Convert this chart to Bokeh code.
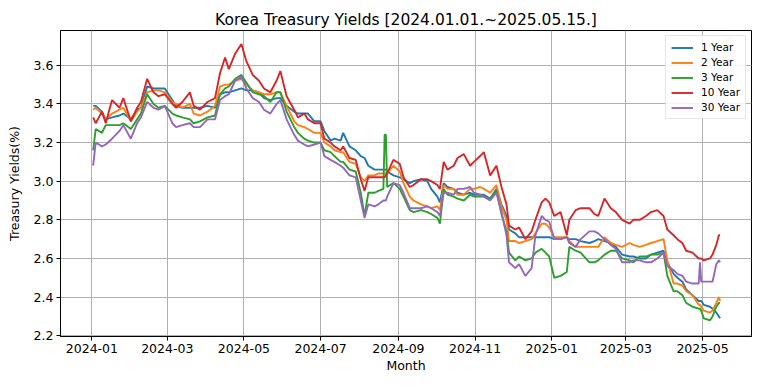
import pandas as pd
from bokeh.plotting import figure
from bokeh.models import (FixedTicker, DatetimeTickFormatter, Legend, LegendItem,
                          Range1d, NumeralTickFormatter)
from bokeh.embed import file_html
from bokeh.resources import INLINE

# ---- data (approx. weekly) ----
dates = [
    "2024-01-02", "2024-01-04", "2024-01-09", "2024-01-12", "2024-01-17", "2024-01-23",
    "2024-01-26", "2024-02-01", "2024-02-06", "2024-02-09", "2024-02-14", "2024-02-19",
    "2024-02-23", "2024-02-28", "2024-03-05", "2024-03-08", "2024-03-13", "2024-03-19",
    "2024-03-22", "2024-03-27", "2024-04-02", "2024-04-08", "2024-04-12", "2024-04-16",
    "2024-04-19", "2024-04-24", "2024-04-29", "2024-05-03", "2024-05-08", "2024-05-13",
    "2024-05-17", "2024-05-22", "2024-05-27", "2024-05-30", "2024-06-04", "2024-06-10",
    "2024-06-13", "2024-06-18", "2024-06-21", "2024-06-26", "2024-07-01", "2024-07-04",
    "2024-07-09", "2024-07-12", "2024-07-17", "2024-07-19", "2024-07-24", "2024-07-29",
    "2024-08-02", "2024-08-05", "2024-08-08", "2024-08-13", "2024-08-16", "2024-08-20",
    "2024-08-21", "2024-08-22", "2024-08-23", "2024-08-28", "2024-09-02", "2024-09-05",
    "2024-09-10", "2024-09-13", "2024-09-19", "2024-09-24", "2024-09-27", "2024-10-02",
    "2024-10-04", "2024-10-07", "2024-10-10", "2024-10-15", "2024-10-18", "2024-10-23",
    "2024-10-28", "2024-10-31", "2024-11-05", "2024-11-08", "2024-11-13", "2024-11-18",
    "2024-11-22", "2024-11-26", "2024-11-28", "2024-12-03", "2024-12-06", "2024-12-11",
    "2024-12-16", "2024-12-19", "2024-12-24", "2024-12-27", "2024-12-30", "2025-01-03",
    "2025-01-08", "2025-01-13", "2025-01-15", "2025-01-20", "2025-01-24", "2025-01-31",
    "2025-02-04", "2025-02-07", "2025-02-12", "2025-02-17", "2025-02-21", "2025-02-26",
    "2025-03-04", "2025-03-07", "2025-03-12", "2025-03-17", "2025-03-21", "2025-03-26",
    "2025-03-31", "2025-04-03", "2025-04-08", "2025-04-11", "2025-04-15", "2025-04-18",
    "2025-04-23", "2025-04-28", "2025-04-29", "2025-04-30", "2025-05-02", "2025-05-07",
    "2025-05-09", "2025-05-12", "2025-05-14", "2025-05-15",
]

y_1 = [
    3.39, 3.39, 3.36, 3.32, 3.33, 3.34, 3.35, 3.32, 3.37, 3.38, 3.49, 3.48,
    3.48, 3.48, 3.42, 3.39, 3.38, 3.38, 3.38, 3.38, 3.39, 3.38, 3.45, 3.46,
    3.46, 3.47, 3.48, 3.47, 3.47, 3.46, 3.43, 3.42, 3.43, 3.43, 3.39, 3.36,
    3.35, 3.35, 3.35, 3.31, 3.31, 3.26, 3.21, 3.22, 3.21, 3.25, 3.18, 3.16,
    3.13, 3.12, 3.08, 3.06, 3.06, 3.06, 3.06, 3.06, 3.05, 3.03, 3.02, 3.01,
    2.99, 3.00, 3.01, 3.00, 2.96, 2.92, 2.89, 2.99, 2.97, 2.96, 2.94, 2.93,
    2.94, 2.93, 2.93, 2.93, 2.91, 2.96, 2.88, 2.82, 2.75, 2.73, 2.71, 2.71,
    2.71, 2.71, 2.71, 2.71, 2.71, 2.70, 2.70, 2.71, 2.70, 2.70, 2.69, 2.68,
    2.69, 2.70, 2.69, 2.68, 2.66, 2.62, 2.61, 2.61, 2.60, 2.60, 2.62, 2.63,
    2.64, 2.58, 2.52, 2.50, 2.48, 2.44, 2.41, 2.38, 2.38, 2.38, 2.36, 2.35,
    2.34, 2.32, 2.30, 2.29,
]

y_2 = [
    3.37, 3.38, 3.35, 3.32, 3.35, 3.37, 3.38, 3.31, 3.36, 3.38, 3.46, 3.47,
    3.47, 3.46, 3.41, 3.40, 3.38, 3.40, 3.35, 3.34, 3.36, 3.39, 3.49, 3.50,
    3.50, 3.52, 3.53, 3.50, 3.47, 3.46, 3.45, 3.45, 3.46, 3.46, 3.39, 3.31,
    3.29, 3.28, 3.27, 3.25, 3.25, 3.20, 3.18, 3.16, 3.15, 3.15, 3.10, 3.09,
    3.02, 3.00, 3.03, 3.03, 3.04, 3.04, 3.04, 3.04, 3.04, 3.08, 3.05, 2.99,
    2.92, 2.90, 2.88, 2.87, 2.86, 2.87, 2.85, 2.98, 2.96, 2.96, 2.93, 2.93,
    2.96, 2.96, 2.97, 2.96, 2.94, 2.98, 2.87, 2.80, 2.69, 2.69, 2.68, 2.69,
    2.70, 2.73, 2.78, 2.78, 2.76, 2.71, 2.71, 2.71, 2.69, 2.66, 2.66, 2.66,
    2.66, 2.66, 2.71, 2.68, 2.67, 2.66, 2.68, 2.67, 2.66, 2.67, 2.68, 2.69,
    2.70, 2.59, 2.47, 2.47, 2.46, 2.43, 2.41, 2.36, 2.36, 2.35, 2.33, 2.32,
    2.33, 2.37, 2.40, 2.38,
]

y_3 = [
    3.16, 3.27, 3.25, 3.29, 3.29, 3.29, 3.30, 3.27, 3.32, 3.35, 3.45, 3.40,
    3.38, 3.39, 3.35, 3.34, 3.33, 3.32, 3.30, 3.31, 3.33, 3.34, 3.45, 3.48,
    3.49, 3.53, 3.55, 3.51, 3.46, 3.45, 3.44, 3.41, 3.46, 3.46, 3.36, 3.28,
    3.25, 3.22, 3.21, 3.20, 3.20, 3.16, 3.15, 3.13, 3.10, 3.10, 3.06, 3.05,
    2.94, 2.82, 2.94, 2.94, 2.95, 2.96, 3.24, 3.24, 2.97, 2.99, 2.96, 2.92,
    2.85, 2.84, 2.85, 2.84, 2.83, 2.81, 2.78, 2.96, 2.93, 2.92, 2.91, 2.90,
    2.93, 2.92, 2.92, 2.92, 2.91, 2.95, 2.83, 2.74, 2.63, 2.59, 2.61, 2.59,
    2.60, 2.63, 2.65, 2.63, 2.61, 2.50, 2.51, 2.53, 2.66, 2.64, 2.63, 2.58,
    2.58, 2.59, 2.62, 2.64, 2.64, 2.60, 2.59, 2.58, 2.61, 2.61, 2.62, 2.62,
    2.63, 2.51, 2.43, 2.43, 2.41, 2.37, 2.35, 2.34, 2.34, 2.33, 2.29, 2.28,
    2.30, 2.35, 2.37, 2.37,
]

y_10 = [
    3.33, 3.30, 3.36, 3.30, 3.42, 3.38, 3.43, 3.31, 3.38, 3.41, 3.53, 3.46,
    3.44, 3.45, 3.40, 3.38, 3.41, 3.46, 3.39, 3.37, 3.41, 3.43, 3.56, 3.64,
    3.58, 3.66, 3.71, 3.62, 3.55, 3.52, 3.48, 3.46, 3.52, 3.57, 3.44, 3.37,
    3.33, 3.35, 3.32, 3.30, 3.30, 3.22, 3.20, 3.18, 3.16, 3.18, 3.12, 3.11,
    3.01, 2.95, 3.02, 3.02, 3.02, 3.02, 3.02, 3.03, 3.04, 3.11, 3.09, 3.02,
    2.97, 2.98, 3.01, 3.01, 3.00, 2.98, 2.96, 3.10, 3.06, 3.08, 3.12, 3.14,
    3.08, 3.10, 3.13, 3.15, 3.03, 3.08, 2.97, 2.88, 2.77, 2.75, 2.76, 2.70,
    2.74, 2.80, 2.89, 2.91, 2.89, 2.82, 2.84, 2.72, 2.80, 2.85, 2.86, 2.86,
    2.83, 2.82, 2.91, 2.86, 2.84, 2.80, 2.78, 2.80, 2.80, 2.82, 2.84, 2.85,
    2.82, 2.75, 2.72, 2.70, 2.68, 2.64, 2.63, 2.60, 2.60, 2.60, 2.59, 2.60,
    2.62, 2.67, 2.72, 2.72,
]

y_30 = [
    3.08, 3.20, 3.18, 3.19, 3.22, 3.26, 3.29, 3.22, 3.30, 3.33, 3.41, 3.38,
    3.37, 3.39, 3.30, 3.28, 3.29, 3.30, 3.28, 3.28, 3.32, 3.32, 3.42, 3.44,
    3.45, 3.52, 3.54, 3.48, 3.43, 3.41, 3.37, 3.35, 3.40, 3.42, 3.32, 3.24,
    3.21, 3.19, 3.18, 3.19, 3.20, 3.13, 3.11, 3.10, 3.08, 3.07, 3.03, 3.02,
    2.90, 2.81, 2.88, 2.87, 2.88, 2.90, 2.90, 2.90, 2.92, 2.99, 2.98, 2.94,
    2.86, 2.86, 2.86, 2.87, 2.86, 2.84, 2.82, 2.94, 2.94, 2.93, 2.96, 2.96,
    2.97, 2.94, 2.93, 2.92, 2.90, 2.94, 2.84, 2.72, 2.58, 2.55, 2.57, 2.51,
    2.55, 2.72, 2.82, 2.80, 2.79, 2.70, 2.70, 2.71, 2.68, 2.66, 2.70, 2.74,
    2.74, 2.73, 2.70, 2.67, 2.65, 2.58, 2.58, 2.59, 2.59, 2.58, 2.58, 2.60,
    2.63, 2.56, 2.54, 2.52, 2.51, 2.48, 2.47, 2.47, 2.58, 2.48, 2.48, 2.48,
    2.48, 2.57, 2.59, 2.58,
]

series_labels = ["1 Year", "2 Year", "3 Year", "10 Year", "30 Year"]
series_colors = ["#1f77b4", "#ff7f0e", "#2ca02c", "#d62728", "#9467bd"]
tick_months = ["2024-01-01", "2024-03-01", "2024-05-01", "2024-07-01", "2024-09-01",
               "2024-11-01", "2025-01-01", "2025-03-01", "2025-05-01"]
y_ticks = [2.2, 2.4, 2.6, 2.8, 3.0, 3.2, 3.4, 3.6]

# ---- figure ----
FONT = "DejaVu Sans"
x = pd.to_datetime(dates)

p = figure(width=752, height=375, output_backend="svg", toolbar_location=None,
           x_axis_type="datetime",
           x_range=Range1d(pd.Timestamp("2023-12-07"), pd.Timestamp("2025-06-09")),
           y_range=Range1d(2.196, 3.78),
           title="Korea Treasury Yields [2024.01.01.~2025.05.15.]")
p.min_border_left = 60
p.min_border_right = 1
p.min_border_top = 30
p.min_border_bottom = 38
p.background_fill_color = "white"
p.border_fill_color = "white"
p.outline_line_color = "black"
p.outline_line_width = 1
p.outline_line_alpha = 1

p.title.align = "center"
p.title.text_font = FONT
p.title.text_font_size = "15.5px"
p.title.text_font_style = "normal"
p.title.text_color = "black"
p.title.standoff = 4

renderers = []
for ys, c in zip([y_1, y_2, y_3, y_10, y_30], series_colors):
    r = p.line(x, ys, line_color=c, line_width=1.9)
    renderers.append(r)

legend = Legend(items=[LegendItem(label=l, renderers=[r]) for l, r in zip(series_labels, renderers)],
                location="top_right")
legend.label_text_font = FONT
legend.label_text_font_size = "10.5px"
legend.label_text_color = "black"
legend.label_height = 11
legend.glyph_height = 11
legend.glyph_width = 22
legend.label_standoff = 8
legend.spacing = 3
legend.padding = 5
legend.margin = 5
legend.border_line_color = "#cccccc"
legend.border_line_width = 1
legend.background_fill_alpha = 0.85
p.add_layout(legend)

# axes
tick_ms = [pd.Timestamp(t).value // 10**6 for t in tick_months]
p.xaxis.ticker = FixedTicker(ticks=tick_ms)
fmt = "%Y-%m"
p.xaxis.formatter = DatetimeTickFormatter(milliseconds=fmt, seconds=fmt, minsec=fmt, minutes=fmt,
                                          hourmin=fmt, hours=fmt, days=fmt, months=fmt, years=fmt)
p.yaxis.ticker = FixedTicker(ticks=y_ticks)
p.yaxis.formatter = NumeralTickFormatter(format="0.0")
p.xaxis.axis_label = "Month"
p.yaxis.axis_label = "Treasury Yields(%)"

for ax in [p.xaxis[0], p.yaxis[0]]:
    ax.axis_line_color = "black"
    ax.major_tick_line_color = "black"
    ax.major_tick_out = 4
    ax.major_tick_in = 0
    ax.minor_tick_line_color = None
    ax.major_label_text_font = FONT
    ax.major_label_text_font_size = "12.5px"
    ax.major_label_text_color = "black"
    ax.major_label_standoff = 3
    ax.axis_label_text_font = FONT
    ax.axis_label_text_font_size = "12.5px"
    ax.axis_label_text_font_style = "normal"
    ax.axis_label_text_color = "black"
p.xaxis.axis_label_standoff = 2
p.yaxis.axis_label_standoff = 9

p.xgrid.grid_line_color = "#b0b0b0"
p.ygrid.grid_line_color = "#b0b0b0"
p.xgrid.grid_line_width = 1
p.ygrid.grid_line_width = 1

open("out.html", "w").write(file_html(p, INLINE))
